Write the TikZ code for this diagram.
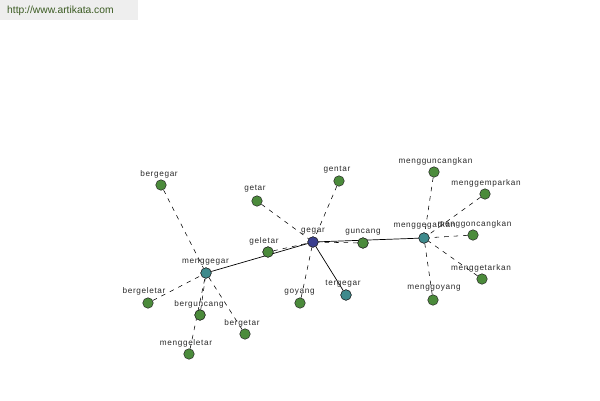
\documentclass[tikz,border=0pt]{standalone}
\usepackage{fontspec}
\setmainfont{Liberation Sans}
\newfontfamily\lblfont[LetterSpace=8]{Liberation Sans}
\definecolor{ngreen}{HTML}{4B8B3B}
\definecolor{nteal}{HTML}{3E8A8C}
\definecolor{nblue}{HTML}{3A3F8F}
\definecolor{lbltext}{HTML}{2A2A2A}
\definecolor{hdrbg}{HTML}{EEEEEE}
\definecolor{hdrtext}{HTML}{3B5B22}
\tikzset{
  vtx/.style={circle, draw=black!85, line width=0.5pt, minimum size=10.5pt, inner sep=0pt},
  gv/.style={vtx, fill=ngreen},
  tv/.style={vtx, fill=nteal},
  bv/.style={vtx, fill=nblue},
  lbl/.style={inner sep=0pt, text=lbltext, font=\lblfont\fontsize{8.2pt}{9pt}\selectfont},
  dashedge/.style={draw=black, line width=0.55pt, dash pattern=on 4.5pt off 5pt},
  solidedge/.style={draw=black, line width=0.7pt},
}
\begin{document}
\begin{tikzpicture}[x=1pt,y=-1pt]
\useasboundingbox (0,0) rectangle (600,400);
\fill[white] (0,0) rectangle (600,400);
% header
\fill[hdrbg] (0,0) rectangle (138,20);
\node[anchor=west, inner sep=0pt, text=hdrtext, font=\fontsize{10.3pt}{12pt}\selectfont] (hdr) at (7,11) {http://www.artikata.com};

% nodes
\node[bv] (gegar) at (313,242) {};
\node[tv] (menggegar) at (206,273) {};
\node[tv] (menggegarkan) at (424,238) {};
\node[tv] (tergegar) at (346,295) {};
\node[gv] (bergegar) at (161,185) {};
\node[gv] (getar) at (257,201) {};
\node[gv] (geletar) at (268,252) {};
\node[gv] (bergeletar) at (148,303) {};
\node[gv] (berguncang) at (200,315) {};
\node[gv] (bergetar) at (245,334) {};
\node[gv] (menggeletar) at (189,354) {};
\node[gv] (goyang) at (300,303) {};
\node[gv] (gentar) at (339,181) {};
\node[gv] (guncang) at (363,243) {};
\node[gv] (mengguncangkan) at (434,172) {};
\node[gv] (menggemparkan) at (485,194) {};
\node[gv] (menggoncangkan) at (473,235) {};
\node[gv] (menggetarkan) at (482,279) {};
\node[gv] (menggoyang) at (433,300) {};

% edges
\draw[solidedge] (menggegar) -- (gegar);
\draw[solidedge] (gegar) -- (menggegarkan);
\draw[solidedge] (gegar) -- (tergegar);
\draw[dashedge] (bergegar) -- (menggegar);
\draw[dashedge] (bergeletar) -- (menggegar);
\draw[dashedge] (berguncang) -- (menggegar);
\draw[dashedge] (menggeletar) -- (menggegar);
\draw[dashedge] (bergetar) -- (menggegar);
\draw[dashedge] (getar) -- (gegar);
\draw[dashedge] (geletar) -- (gegar);
\draw[dashedge] (goyang) -- (gegar);
\draw[dashedge] (gentar) -- (gegar);
\draw[dashedge] (guncang) -- (gegar);
\draw[dashedge] (mengguncangkan) -- (menggegarkan);
\draw[dashedge] (menggemparkan) -- (menggegarkan);
\draw[dashedge] (menggoncangkan) -- (menggegarkan);
\draw[dashedge] (menggetarkan) -- (menggegarkan);
\draw[dashedge] (menggoyang) -- (menggegarkan);

% redraw nodes on top of connectors
\node[bv] at (gegar) {};
\node[tv] at (menggegar) {};
\node[tv] at (menggegarkan) {};
\node[tv] at (tergegar) {};
\node[gv] at (geletar) {};
\node[gv] at (guncang) {};
\node[gv] at (berguncang) {};

% labels
\node[lbl] (l-gegar) at (313,231) {gegar};
\node[lbl] (l-menggegar) at (205.5,262) {menggegar};
\node[lbl] (l-menggegarkan) at (424.5,225.5) {menggegarkan};
\node[lbl] (l-tergegar) at (343,284) {tergegar};
\node[lbl] (l-bergegar) at (159,174) {bergegar};
\node[lbl] (l-getar) at (255,189) {getar};
\node[lbl] (l-geletar) at (264,241) {geletar};
\node[lbl] (l-bergeletar) at (144,291) {bergeletar};
\node[lbl] (l-berguncang) at (199,304) {berguncang};
\node[lbl] (l-bergetar) at (242,323) {bergetar};
\node[lbl] (l-menggeletar) at (186,343) {menggeletar};
\node[lbl] (l-goyang) at (299.5,292.5) {goyang};
\node[lbl] (l-gentar) at (337,169.5) {gentar};
\node[lbl] (l-guncang) at (363,232) {guncang};
\node[lbl] (l-mengguncangkan) at (435.5,161) {mengguncangkan};
\node[lbl] (l-menggemparkan) at (486,183) {menggemparkan};
\node[lbl] (l-menggoncangkan) at (474.5,224) {menggoncangkan};
\node[lbl] (l-menggetarkan) at (481,268) {menggetarkan};
\node[lbl] (l-menggoyang) at (434,288.5) {menggoyang};
\end{tikzpicture}
\end{document}
